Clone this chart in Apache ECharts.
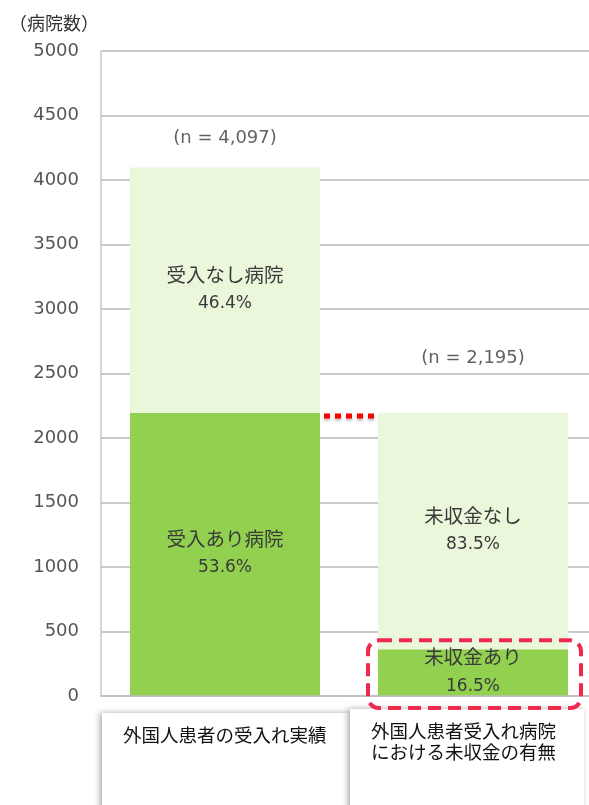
<!DOCTYPE html>
<html>
<head>
<meta charset="utf-8">
<script src="https://cdn.jsdelivr.net/npm/echarts@6/dist/echarts.min.js"></script>
<style>
  html, body { margin: 0; padding: 0; background: #fff; }
  #main { width: 589px; height: 805px; }
</style>
</head>
<body>
<div id="main"></div>
<script>
// categories under the bars
var categories = ['外国人患者の受入れ実績', '外国人患者受入れ病院\nにおける未収金の有無'];
// lower (dark) segment
var lowerNames = ['受入あり病院', '未収金あり'];
var lowerValues = [2196, 362];
var lowerPct = ['53.6%', '16.5%'];
// upper (light) segment
var upperNames = ['受入なし病院', '未収金なし'];
var upperValues = [1901, 1833];
var upperPct = ['46.4%', '83.5%'];
// totals
var totals = [4097, 2195];
var totalLabels = ['(n = 4,097)', '(n = 2,195)'];
// red dotted connector level
var connectorLevel = [2170, 2170];
var yTicks = [0, 500, 1000, 1500, 2000, 2500, 3000, 3500, 4000, 4500, 5000];

var font = "'DejaVu Sans', 'Noto Sans CJK JP', sans-serif";
var chart = echarts.init(document.getElementById('main'));

function segLabel(names, pcts){
  return {
    show: true,
    position: 'inside',
    color: '#3a3a3a',
    fontFamily: font,
    lineHeight: 27,
    formatter: function(p){
      return '{a|' + names[p.dataIndex] + '}\n{b|' + pcts[p.dataIndex] + '}';
    },
    rich: {
      a: { fontSize: 19.5, color: '#3a3a3a', fontFamily: font, lineHeight: 27 },
      b: { fontSize: 17, color: '#3a3a3a', fontFamily: font, lineHeight: 27 }
    }
  };
}

var option = {
  animation: false,
  textStyle: { fontFamily: font },
  title: {
    text: '（病院数）',
    left: 4, top: 11,
    textStyle: { fontSize: 18, fontWeight: 'normal', color: '#333', fontFamily: font }
  },
  grid: { left: 101, top: 51, width: 496, height: 645, outerBoundsMode: 'none' },
  xAxis: {
    type: 'category',
    z: 5,
    data: categories.map(function(c, i){
      return i === 0 ? { value: c, textStyle: { padding: [4, 0, 0, 0] } } : c;
    }),
    axisLine: { show: true, lineStyle: { color: '#BFBFBF', width: 1.5 } },
    axisTick: { show: false },
    axisLabel: {
      interval: 0,
      margin: 27,
      verticalAlign: 'top',
      formatter: function(v){
        return v.split('\n').map(function(s){ return '{t|' + s + '}'; }).join('\n');
      },
      rich: {
        t: { width: 204, align: 'left', fontSize: 18.5, lineHeight: 21, color: '#111', fontFamily: font }
      }
    }
  },
  yAxis: {
    type: 'value',
    min: yTicks[0],
    max: yTicks[yTicks.length - 1],
    interval: 500,
    axisLine: { show: true, lineStyle: { color: '#C8C8C8', width: 1.5 } },
    axisTick: { show: false },
    axisLabel: {
      color: '#555', fontSize: 18, margin: 22, fontFamily: font,
      formatter: function(v){ return String(v); }
    },
    splitLine: { lineStyle: { color: '#B8B8B8', width: 1.5 } }
  },
  series: [
    {
      type: 'line',
      z: 1,
      data: connectorLevel,
      symbol: 'none',
      silent: true,
      lineStyle: {
        color: '#FF0000', width: 5, type: [6, 5],
        shadowBlur: 3, shadowColor: 'rgba(0,0,0,0.3)', shadowOffsetY: 2
      }
    },
    {
      type: 'bar',
      stack: 'a',
      z: 2,
      barWidth: 190,
      data: lowerValues,
      itemStyle: { color: '#92D050' },
      label: segLabel(lowerNames, lowerPct)
    },
    {
      type: 'bar',
      stack: 'a',
      z: 2,
      barWidth: 190,
      data: upperValues,
      itemStyle: { color: '#EBF7DB' },
      label: segLabel(upperNames, upperPct)
    },
    {
      type: 'scatter',
      z: 3,
      symbolSize: 1,
      itemStyle: { color: 'rgba(0,0,0,0)' },
      data: totals.map(function(t, i){
        return { value: t, label: { distance: i === 0 ? 20 : 45 } };
      }),
      label: {
        show: true,
        position: 'top',
        fontSize: 18,
        color: '#3a3a3a',
        fontFamily: font,
        formatter: function(p){ return totalLabels[p.dataIndex]; }
      }
    }
  ]
};
chart.setOption(option);

// boxes under the axis and the dashed frame round the small bar
var top1 = chart.convertToPixel({ xAxisIndex: 0, yAxisIndex: 0 }, [1, lowerValues[1]]);
var zero1 = chart.convertToPixel({ xAxisIndex: 0, yAxisIndex: 0 }, [1, 0]);
var zero0 = chart.convertToPixel({ xAxisIndex: 0, yAxisIndex: 0 }, [0, 0]);
var boxShadow = { shadowBlur: 6, shadowColor: 'rgba(0,0,0,0.35)', shadowOffsetX: -2, shadowOffsetY: 0 };

chart.setOption({
  graphic: [
    {
      type: 'rect', z: -10,
      shape: { x: zero0[0] - 123, y: zero0[1] + 17, width: 248, height: 110 },
      style: Object.assign({ fill: '#fff' }, boxShadow)
    },
    {
      type: 'rect', z: -10,
      shape: { x: zero1[0] - 123, y: zero1[1] + 13, width: 234, height: 110 },
      style: Object.assign({ fill: '#fff' }, boxShadow)
    },
    {
      type: 'rect', z: 50,
      shape: { x: top1[0] - 105, y: top1[1] - 9, width: 213, height: zero1[1] + 12 - (top1[1] - 9), r: 11 },
      style: { fill: 'none', stroke: '#EE2A4F', lineWidth: 4, lineDash: [13, 7] }
    }
  ]
});
</script>
</body>
</html>
